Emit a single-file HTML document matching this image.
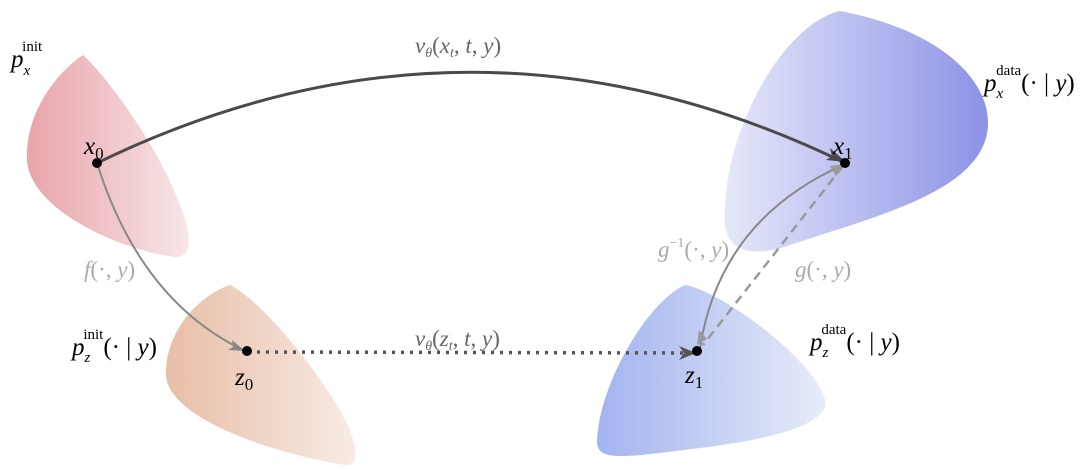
<!DOCTYPE html>
<html><head><meta charset="utf-8"><style>
html,body{margin:0;padding:0;background:#fff;}
svg{display:block;}
text{font-family:"Liberation Serif",serif;}
.it{font-style:italic;}
</style></head><body>
<svg width="1080" height="469" viewBox="0 0 1080 469" xmlns="http://www.w3.org/2000/svg">
<defs>
<linearGradient id="gp" x1="0" x2="1" y1="0" y2="0"><stop offset="0" stop-color="#e8a4aa"/><stop offset="1" stop-color="#f7e6e8"/></linearGradient>
<linearGradient id="go" x1="0" x2="1"><stop offset="0" stop-color="#e8bea6"/><stop offset="1" stop-color="#f8ebe5"/></linearGradient>
<linearGradient id="gb" x1="0" x2="1"><stop offset="0" stop-color="#e6e8f9"/><stop offset="1" stop-color="#8c92e6"/></linearGradient>
<linearGradient id="gc" x1="0" x2="1"><stop offset="0" stop-color="#a3b3ee"/><stop offset="1" stop-color="#e7ecf9"/></linearGradient>
</defs>
<path d="M83,55 C60,70 25,110 27,160 C30,210 120,250 175,257 C195,258 190,230 180,205 C160,150 110,80 83,55 Z" fill="url(#gp)"/>
<path d="M230,285 C200,295 165,330 166,375 C168,420 280,455 345,465 C365,467 352,430 340,410 C310,360 260,300 230,285 Z" fill="url(#go)"/>
<path d="M840,11 C780,25 720,140 725,225 C728,255 760,256 790,245 C880,215 985,190 988,125 C990,80 940,30 840,11 Z" fill="url(#gb)"/>
<path d="M685,285 C650,300 600,380 597,440 C596,462 620,458 700,448 C790,437 830,420 825,400 C815,360 720,290 685,285 Z" fill="url(#gc)"/>

<path d="M97,163 Q470,-18 843,162" fill="none" stroke="#4a4a4a" stroke-width="3"/>
<path d="M830,148 L846,162 L826,160 L832,156 Z" fill="#4a4a4a"/>
<path d="M97,163 Q140,300 243,350" fill="none" stroke="#888" stroke-width="2"/>
<path d="M232,340 L245,351 L228,350 L233,347 Z" fill="#888"/>
<path d="M248,352 L692,353" fill="none" stroke="#555" stroke-width="3.5" stroke-dasharray="3,6"/>
<path d="M679,346 L696,353 L679,360 L684,353 Z" fill="#555"/>
<path d="M700,348 Q720,220 843,165" fill="none" stroke="#888" stroke-width="2"/>
<path d="M830,166 L845,164 L836,176 Z" fill="#999"/>
<path d="M697,345 L699,330 L707,339 Z" fill="#999"/>
<path d="M843,166 L703,345" fill="none" stroke="#999" stroke-width="2.5" stroke-dasharray="9,6"/>

<circle cx="97" cy="163" r="5" fill="#000"/>
<circle cx="845" cy="163" r="5" fill="#000"/>
<circle cx="247" cy="351" r="5" fill="#000"/>
<circle cx="697" cy="351" r="5" fill="#000"/>

<g font-size="25">
<text x="11" y="67" class="it">p<tspan font-size="15" dy="8">x</tspan><tspan font-size="15" font-style="normal" dx="-8" dy="-24">init</tspan></text>
<text x="84" y="154" class="it">x<tspan font-size="17" font-style="normal" dy="5">0</tspan></text>
<text x="833" y="154" class="it">x<tspan font-size="17" font-style="normal" dy="5">1</tspan></text>
<text x="235" y="385" class="it">z<tspan font-size="17" font-style="normal" dy="5">0</tspan></text>
<text x="685" y="383" class="it">z<tspan font-size="17" font-style="normal" dy="5">1</tspan></text>
<text x="72" y="355" class="it">p<tspan font-size="15" dy="7">z</tspan><tspan font-size="15" font-style="normal" dx="-7" dy="-23">init</tspan><tspan font-style="normal" dy="16">(· | </tspan><tspan>y</tspan><tspan font-style="normal">)</tspan></text>
<text x="984" y="91" class="it">p<tspan font-size="15" dy="7">x</tspan><tspan font-size="15" font-style="normal" dx="-7" dy="-23">data</tspan><tspan font-style="normal" dy="16">(· | </tspan><tspan>y</tspan><tspan font-style="normal">)</tspan></text>
<text x="810" y="350" class="it">p<tspan font-size="15" dy="7">z</tspan><tspan font-size="15" font-style="normal" dx="-7" dy="-23">data</tspan><tspan font-style="normal" dy="16">(· | </tspan><tspan>y</tspan><tspan font-style="normal">)</tspan></text>
</g>
<g font-size="23" fill="#666">
<text x="415" y="53" class="it">v<tspan font-size="14" dy="4">θ</tspan><tspan font-style="normal" dy="-4">(</tspan>x<tspan font-size="14" dy="4">t</tspan><tspan font-style="normal" dy="-4">, </tspan>t<tspan font-style="normal">, </tspan>y<tspan font-style="normal">)</tspan></text>
<text x="415" y="346" class="it">v<tspan font-size="14" dy="4">θ</tspan><tspan font-style="normal" dy="-4">(</tspan>z<tspan font-size="14" dy="4">t</tspan><tspan font-style="normal" dy="-4">, </tspan>t<tspan font-style="normal">, </tspan>y<tspan font-style="normal">)</tspan></text>
</g>
<g font-size="23" fill="#aaa">
<text x="84" y="277" class="it">f<tspan font-style="normal">(·, </tspan>y<tspan font-style="normal">)</tspan></text>
<text x="658" y="257" class="it">g<tspan font-size="14" font-style="normal" dy="-10">−1</tspan><tspan font-style="normal" dy="10">(·, </tspan>y<tspan font-style="normal">)</tspan></text>
<text x="795" y="277" class="it">g<tspan font-style="normal">(·, </tspan>y<tspan font-style="normal">)</tspan></text>
</g>
</svg>
</body></html>
